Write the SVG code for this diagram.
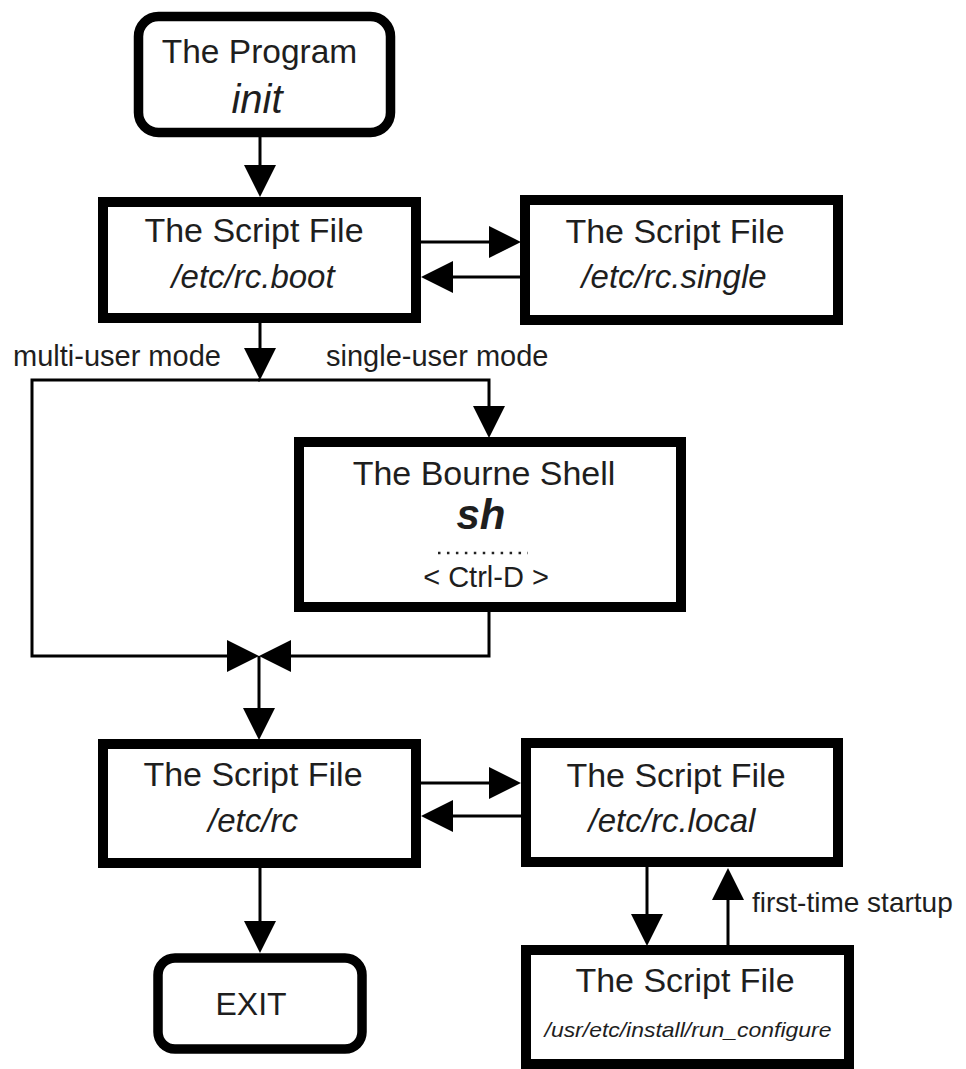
<svg xmlns="http://www.w3.org/2000/svg" width="966" height="1069" viewBox="0 0 966 1069">
<style>
  .box { fill: #fff; stroke: #000; stroke-width: 10; }
  .rbox { fill: #fff; stroke: #000; stroke-width: 9.5; }
  .conn { fill: none; stroke: #000; stroke-width: 3; }
  text { font-family: "Liberation Sans", Arial, Helvetica, sans-serif; fill: #1e1e1e; }
  .title { font-size: 34px; text-anchor: middle; }
  .sub { font-size: 33px; font-style: italic; text-anchor: middle; }
  .lbl { font-size: 29px; }
</style>
<defs>
  <marker id="arr" markerUnits="userSpaceOnUse" markerWidth="32" markerHeight="32" viewBox="0 0 31 31" refX="1" refY="15.5" orient="auto">
    <path d="M0,0 L31,15.5 L0,31 Z" fill="#000"/>
  </marker>
</defs>
<rect width="966" height="1069" fill="#fff"/>

<g id="connectors">
  <path class="conn" d="M260,137 V166" marker-end="url(#arr)"/>
  <path class="conn" d="M421,242 H490" marker-end="url(#arr)"/>
  <path class="conn" d="M520,277 H452" marker-end="url(#arr)"/>
  <path class="conn" d="M260,323 V349" marker-end="url(#arr)"/>
  <path class="conn" d="M260,380 H32 V656 H228" marker-end="url(#arr)"/>
  <path class="conn" d="M258,380 H489 V407" marker-end="url(#arr)"/>
  <path class="conn" d="M489,612 V656 H290" marker-end="url(#arr)"/>
  <path class="conn" d="M259,656 V709" marker-end="url(#arr)"/>
  <path class="conn" d="M421,783 H490" marker-end="url(#arr)"/>
  <path class="conn" d="M521,816 H452" marker-end="url(#arr)"/>
  <path class="conn" d="M260,868 V922" marker-end="url(#arr)"/>
  <path class="conn" d="M647,867 V915" marker-end="url(#arr)"/>
  <path class="conn" d="M728,946 V899" marker-end="url(#arr)"/>
</g>

<g id="labels">
  <text class="lbl" x="13" y="366">multi-user mode</text>
  <text class="lbl" x="326" y="366">single-user mode</text>
  <text class="lbl" x="752" y="912" style="font-size:28px">first-time startup</text>
</g>

<g id="init">
  <rect class="rbox" x="138.5" y="16.5" width="252" height="116" rx="20"/>
  <text x="259.5" y="63" style="font-size:33.5px;text-anchor:middle">The Program</text>
  <text x="257" y="113" style="font-size:40px;font-style:italic;text-anchor:middle">init</text>
</g>

<g id="rc_boot">
  <rect class="box" x="103" y="202" width="313" height="116"/>
  <text class="title" x="254" y="242">The Script File</text>
  <text class="sub" x="253" y="288">/etc/rc.boot</text>
</g>

<g id="rc_single">
  <rect class="box" x="525" y="200" width="313" height="120"/>
  <text class="title" x="675" y="243">The Script File</text>
  <text class="sub" x="674" y="288">/etc/rc.single</text>
</g>

<g id="sh">
  <rect class="box" x="299" y="442" width="382" height="165"/>
  <text class="title" x="484" y="485">The Bourne Shell</text>
  <text x="481" y="529" style="font-size:42px;font-style:italic;font-weight:bold;text-anchor:middle">sh</text>
  <line x1="438" y1="553" x2="528" y2="553" stroke="#222" stroke-width="2.5" stroke-dasharray="2.5,6.45"/>
  <text x="486" y="587" style="font-size:29px;text-anchor:middle">&lt; Ctrl-D &gt;</text>
</g>

<g id="rc">
  <rect class="box" x="103" y="744" width="313" height="119"/>
  <text class="title" x="253" y="786">The Script File</text>
  <text class="sub" x="253" y="832">/etc/rc</text>
</g>

<g id="rc_local">
  <rect class="box" x="526" y="743" width="312" height="119"/>
  <text class="title" x="676" y="787">The Script File</text>
  <text class="sub" x="672" y="832">/etc/rc.local</text>
</g>

<g id="exit">
  <rect class="rbox" x="158" y="958" width="204" height="91" rx="17"/>
  <text x="251" y="1015" style="font-size:32px;text-anchor:middle">EXIT</text>
</g>

<g id="run_configure">
  <rect class="box" x="526" y="950" width="323" height="114"/>
  <text class="title" x="685" y="992">The Script File</text>
  <text x="688" y="1037" style="font-size:21px;font-style:italic;text-anchor:middle" textLength="287" lengthAdjust="spacingAndGlyphs">/usr/etc/install/run_configure</text>
</g>
</svg>
